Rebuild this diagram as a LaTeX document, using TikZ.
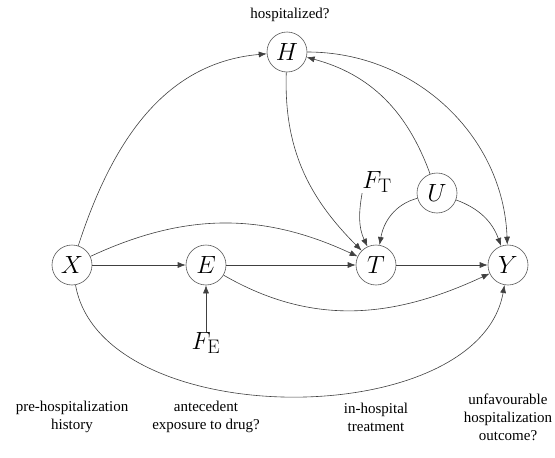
\documentclass[tikz,border=0pt]{standalone}
\usepackage{fontspec}
\newfontfamily\labfont{Liberation Serif}
\usetikzlibrary{arrows.meta}
\begin{document}
\begin{tikzpicture}[x=1pt,y=-1pt,
  var/.style={circle,draw=black!65,line width=0.6pt,minimum size=40pt,inner sep=0pt,font=\fontsize{28}{30}\selectfont},
  ext/.style={inner sep=0pt,font=\fontsize{28}{30}\selectfont},
  lab/.style={align=center,font=\labfont\fontsize{15}{18}\selectfont},
  arr/.style={draw=black!75,line width=0.6pt,-{Latex[length=8pt,width=6pt]}}]
\useasboundingbox (0,0) rectangle (555,458);
\node[var] (X) at (72,265) {$X$};
\node[var] (E) at (206,265) {$E$};
\node[var] (T) at (376,265) {$T$};
\node[var] (Y) at (508,265) {$Y$};
\node[var] (H) at (287,52) {$H$};
\node[var] (U) at (437,193) {$U$};
\node[ext] (FT) at (377,182) {$F_{\mathrm{T}}$};
\node[ext] (FE) at (206,343) {$F_{\mathrm{E}}$};
\node[lab] (lh) at (290,15) {hospitalized?};
\node[lab] (l1) at (72,417) {pre-hospitalization\\history};
\node[lab] (l2) at (206,417) {antecedent\\exposure to drug?};
\node[lab] (l3) at (376,417) {in-hospital\\treatment};
\node[lab] (l4) at (508,417) {unfavourable\\hospitalization\\outcome?};
\draw[arr] (X) -- (E);
\draw[arr] (E) -- (T);
\draw[arr] (T) -- (Y);
\draw[arr] (FE) -- (E);
\draw[arr] (X) to[out=72,in=185] (H);
\draw[arr] (X) to[out=25,in=155] (T);
\draw[arr] (X) to[out=-80,in=-100,looseness=0.9] (Y);
\draw[arr] (E) to[out=-30,in=205] (Y);
\draw[arr] (H) to[out=-92,in=135] (T);
\draw[arr] (H) to[out=0,in=92] (Y);
\draw[arr] (U) to[out=110,in=-15] (H);
\draw[arr] (U) to[out=195,in=80] (T);
\draw[arr] (U) to[out=-20,in=110] (Y);
\draw[arr] (FT.south west) to[out=-100,in=115] (T);
\end{tikzpicture}
\end{document}
